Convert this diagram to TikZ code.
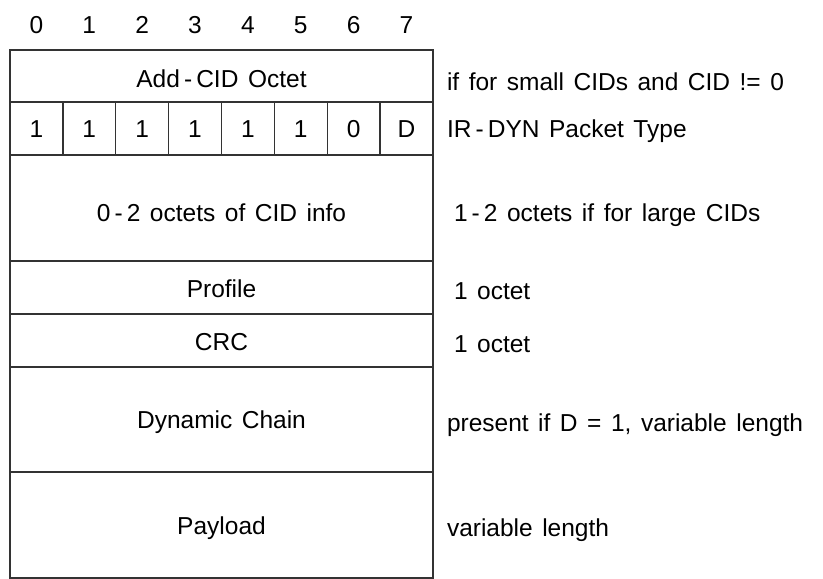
\documentclass[tikz,border=0pt]{standalone}
\usepackage{fontspec}
\setmainfont[WordSpace=1.4]{Liberation Sans}
\begin{document}
\begin{tikzpicture}[x=1pt,y=-1pt,
  every node/.style={inner sep=0pt, outer sep=0pt, font=\fontsize{24.5}{29}\selectfont, text=black},
  frame/.style={draw=black!80, line width=1.3pt},
  cell/.style={anchor=base},
  note/.style={anchor=base west}]
\useasboundingbox[fill=white] (0,0) rectangle (823,579);
% rows
\draw[frame] (10,50) rectangle (433,578);
\foreach \yy in {102,155,261,314,367,472} \draw[frame] (10,\yy) -- (433,\yy);
\foreach \i in {1,...,7} \draw[frame] ({10+\i*52.875},102) -- ({10+\i*52.875},155);
% bit numbers
\foreach \b in {0,...,7} \node[cell] (bit\b) at ({36.4+\b*52.875},33) {\b};
% bits of the type octet
\foreach \v [count=\c from 0] in {1,1,1,1,1,1,0,D} \node[cell] (t\c) at ({36.4+\c*52.875},137) {\v};
% field labels
\node[cell] (addcid) at (221.5,87) {Add\,-\,CID Octet};
\node[cell] (cidinfo) at (221.5,221) {0\,-\,2 octets of CID info};
\node[cell] (profile) at (221.5,297) {Profile};
\node[cell] (crc) at (221.5,350) {CRC};
\node[cell] (dyn) at (221.5,428) {Dynamic Chain};
\node[cell] (payload) at (221.5,534) {Payload};
% notes
\node[note] (n1) at (447,90) {if for small CIDs and CID != 0};
\node[note] (n2) at (447,137) {IR\,-\,DYN Packet Type};
\node[note] (n3) at (454,221) {1\,-\,2 octets if for large CIDs};
\node[note] (n4) at (454,299) {1 octet};
\node[note] (n5) at (454,352) {1 octet};
\node[note] (n6) at (447,431) {present if D = 1, variable length};
\node[note] (n7) at (447,536) {variable length};
\end{tikzpicture}
\end{document}
